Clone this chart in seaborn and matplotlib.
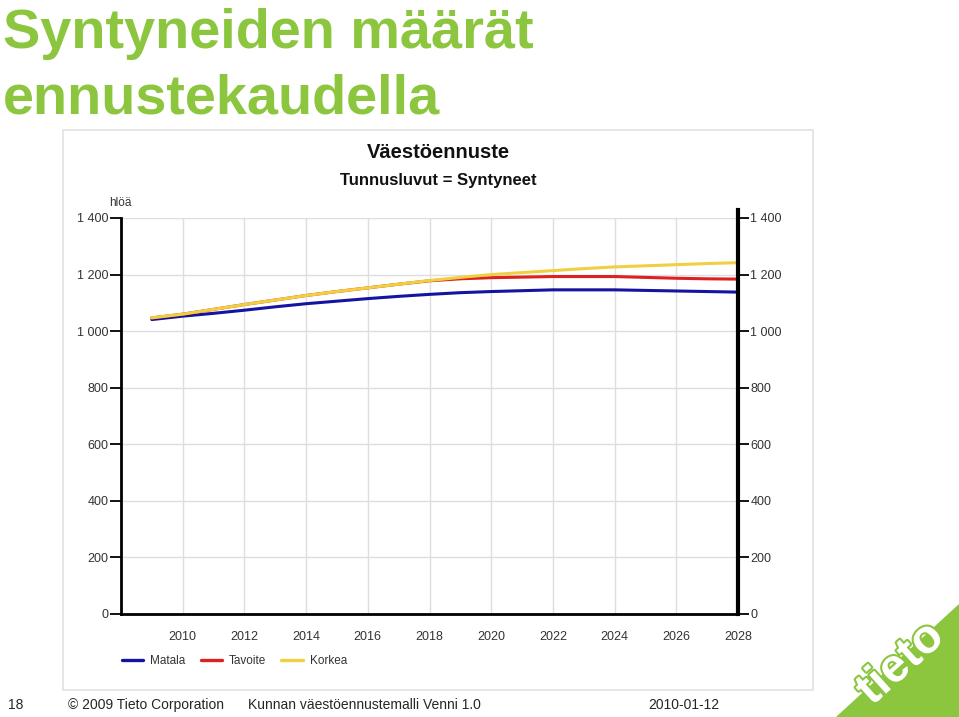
import numpy as np
import pandas as pd
import seaborn as sns
from matplotlib import pyplot as plt
from matplotlib.patches import Rectangle, Polygon
from matplotlib.ticker import FuncFormatter
import matplotlib.patheffects as pe

years = list(range(2009, 2029))
matala = [1041, 1053, 1063, 1074, 1086, 1097, 1106, 1115, 1123, 1130,
          1136, 1140, 1143, 1146, 1146, 1146, 1144, 1142, 1140, 1138]
tavoite = [1047, 1060, 1077, 1094, 1110, 1126, 1140, 1153, 1166, 1178,
           1185, 1189, 1191, 1193, 1193, 1193, 1190, 1187, 1185, 1184]
korkea = [1047, 1060, 1077, 1094, 1110, 1126, 1140, 1153, 1166, 1179,
          1190, 1200, 1207, 1214, 1221, 1227, 1231, 1235, 1239, 1242]
series_names = ['Matala', 'Tavoite', 'Korkea']
series_colors = ['#1414a0', '#dd2020', '#f0d040']
x_ticks = list(range(2010, 2029, 2))
y_ticks = list(range(0, 1401, 200))

df = pd.DataFrame({
    'Vuosi': years * 3,
    'Syntyneet': matala + tavoite + korkea,
    'Skenaario': [n for n in series_names for _ in years],
})

sns.set_style('white')
plt.rcParams['font.family'] = ['Liberation Sans', 'DejaVu Sans']

W, H = 959, 717
fig = plt.figure(figsize=(W / 100, H / 100), dpi=100)

def fx(px):
    return px / W

def fy(py):
    return 1 - py / H

# embedded chart frame
fig.patches.append(Rectangle((fx(63), fy(690)), fx(813) - fx(63), fy(130) - fy(690),
                             transform=fig.transFigure, facecolor='white',
                             edgecolor='#e2e2e2', linewidth=1.2, zorder=-1))

ax = fig.add_axes([fx(121), fy(614), fx(738) - fx(121), fy(218) - fy(614)], zorder=2)
ax.set_facecolor('none')
sns.lineplot(data=df, x='Vuosi', y='Syntyneet', hue='Skenaario',
             palette=dict(zip(series_names, series_colors)),
             linewidth=2.2, legend=False, ax=ax)

ax.set_xlim(2008, 2028)
ax.set_ylim(0, 1400)
ax.set_xticks([2008] + x_ticks)
ax.set_xticklabels([''] + [str(t) for t in x_ticks])
ax.set_yticks(y_ticks)
fmt = FuncFormatter(lambda v, p: f'{int(v):,}'.replace(',', ' '))
ax.yaxis.set_major_formatter(fmt)
ax.set_xlabel('')
ax.set_ylabel('')

for xv in x_ticks[:-1]:
    ax.axvline(xv, color='#dedede', linewidth=1, zorder=0)
for yv in y_ticks[1:]:
    ax.axhline(yv, color='#dedede', linewidth=1, zorder=0)

ax.spines['top'].set_visible(False)
ax.spines['left'].set_linewidth(2)
ax.spines['bottom'].set_linewidth(2)
ax.spines['right'].set_linewidth(3)
ax.spines['right'].set_bounds(0, 1430)
for s in ['left', 'bottom', 'right']:
    ax.spines[s].set_color('black')

ax.tick_params(axis='x', direction='out', length=8, width=2, color='black',
               labelsize=9, labelcolor='#333333', pad=4)
ax.tick_params(axis='y', direction='out', length=8, width=1.3, color='black',
               labelsize=9, labelcolor='#333333', pad=1,
               left=True, right=True, labelleft=True, labelright=True)

fig.text(fx(120), fy(206), 'hlöä', fontsize=8.5, color='#333333', ha='center', va='baseline')
fig.text(fx(438), fy(158), 'Väestöennuste', fontsize=14.5, fontweight='bold',
         ha='center', va='baseline', color='#111111')
fig.text(fx(438), fy(185), 'Tunnusluvut = Syntyneet', fontsize=12, fontweight='bold',
         ha='center', va='baseline', color='#111111')

handles = [plt.Line2D([], [], color=c, linewidth=2.4) for c in series_colors]
fig.legend(handles, series_names, loc='center left',
           bbox_to_anchor=(fx(111), fy(661)), ncol=3, frameon=False,
           fontsize=8.5, handlelength=1.8, handletextpad=0.6, columnspacing=1.3,
           labelcolor='#333333')

# slide title
green = '#8cc63f'
fig.text(fx(3), fy(48), 'Syntyneiden määrät', fontsize=40.2, fontweight='bold',
         color=green, ha='left', va='baseline')
fig.text(fx(3), fy(113), 'ennustekaudella', fontsize=40.2, fontweight='bold',
         color=green, ha='left', va='baseline')

# footer
fig.text(fx(8), fy(709), '18', fontsize=10, ha='left', va='baseline')
fig.text(fx(68), fy(709), '© 2009 Tieto Corporation', fontsize=10, ha='left', va='baseline')
fig.text(fx(248), fy(709), 'Kunnan väestöennustemalli Venni 1.0', fontsize=10,
         ha='left', va='baseline')
fig.text(fx(648), fy(709), '2010-01-12', fontsize=10, ha='left', va='baseline')

# logo
fig.patches.append(Polygon([(fx(836), fy(717)), (fx(959), fy(717)), (fx(959), fy(604))],
                           closed=True, transform=fig.transFigure,
                           facecolor=green, edgecolor='none'))
fig.text(fx(901), fy(664), 'tieto', fontsize=34, fontweight='bold', color='white',
         rotation=42, ha='center', va='center', rotation_mode='anchor',
         path_effects=[pe.withStroke(linewidth=3, foreground=green)])

fig.savefig('out.png', dpi=100)
